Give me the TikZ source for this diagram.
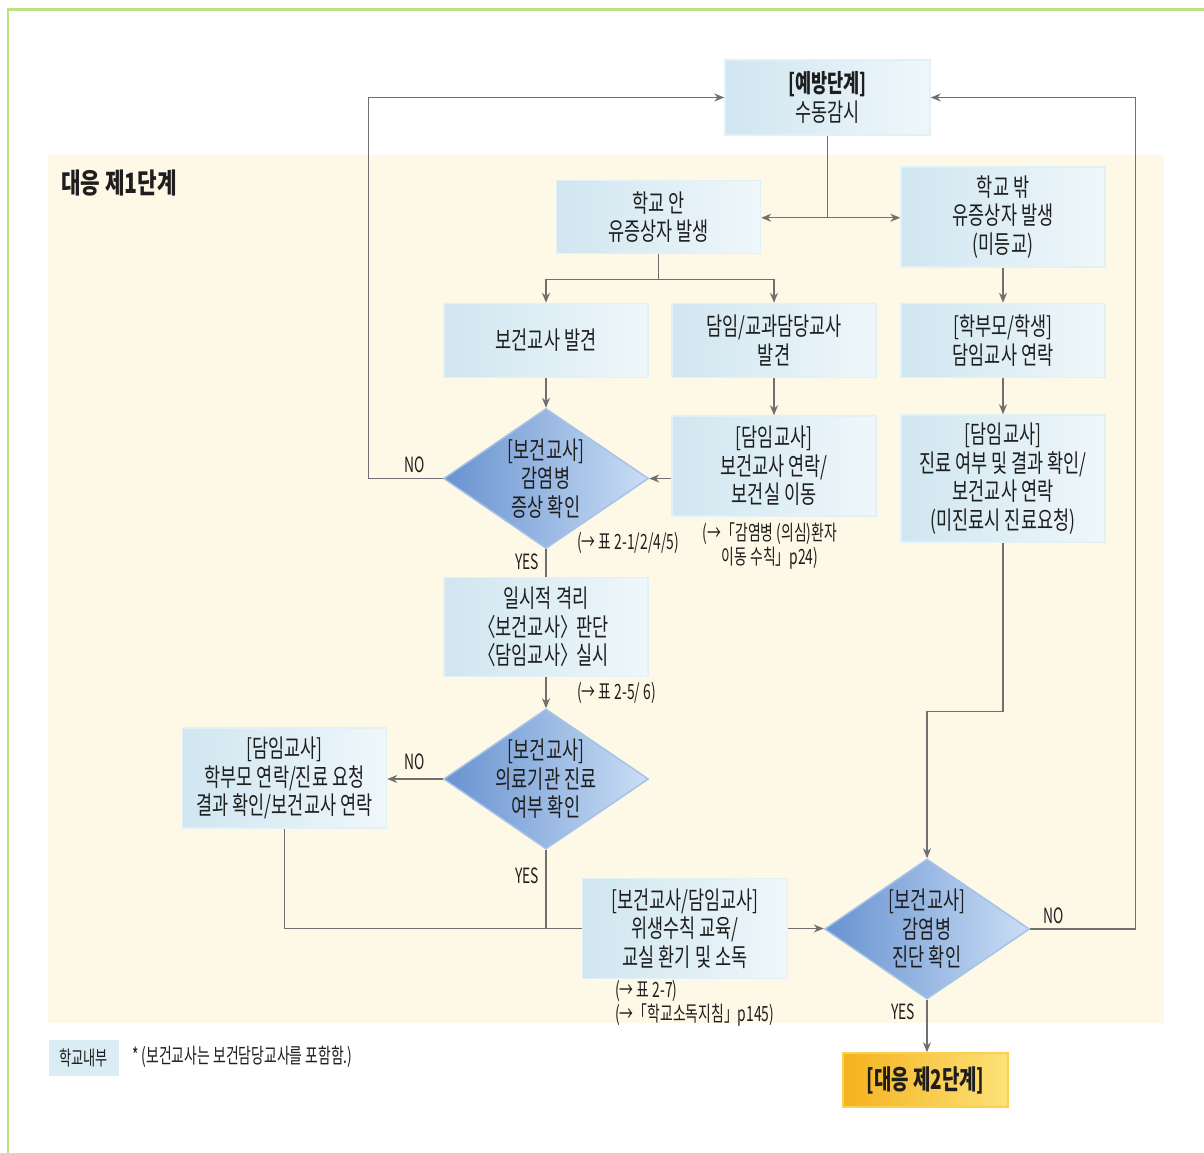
\documentclass[tikz,border=0pt]{standalone}
\usepackage{fontspec}
\usetikzlibrary{shapes.geometric,arrows.meta}
\newfontfamily\kr[FakeStretch=0.7]{Noto Sans CJK KR}
\newfontfamily\krn[FakeStretch=0.66]{Noto Sans CJK KR}
\newfontfamily\krt[FakeStretch=0.7]{Noto Sans CJK KR}
\newfontfamily\krh[FakeStretch=0.76]{Noto Sans CJK KR}
\newcommand\lab{\makebox[0.5em][r]{〈}}
\newcommand\rab{\makebox[0.5em][l]{〉}}
\definecolor{boxL}{RGB}{208,230,240}
\definecolor{boxR}{RGB}{239,247,251}
\definecolor{boxB}{RGB}{226,240,247}
\definecolor{diaL}{RGB}{104,146,208}
\definecolor{diaR}{RGB}{202,222,245}
\definecolor{diaB}{RGB}{165,195,232}
\definecolor{cream}{RGB}{253,249,230}
\definecolor{lineC}{RGB}{112,112,112}
\definecolor{goldL}{RGB}{245,178,30}
\definecolor{goldR}{RGB}{252,226,120}
\definecolor{goldB}{RGB}{250,208,80}
\definecolor{frameG}{RGB}{190,226,128}
\definecolor{txt}{RGB}{30,30,30}
\definecolor{legC}{RGB}{218,236,244}
\tikzset{
  box/.style={rectangle, left color=boxL, right color=boxR, draw=boxB, line width=1.5pt,
    inner sep=0pt, align=center, text=txt, font={\kr\fontsize{25}{28.5}\selectfont}},
  dia/.style={diamond, left color=diaL, right color=diaR, draw=diaB, line width=1.5pt,
    minimum width=205pt, minimum height=140pt, inner sep=0pt},
  dtext/.style={align=center, text=txt, font={\kr\fontsize{25}{28.5}\selectfont}},
  gold/.style={rectangle, left color=goldL, right color=goldR, draw=goldB, line width=1.5pt,
    inner sep=0pt, text=txt, font={\krt\bfseries\fontsize{27}{30}\selectfont}},
  note/.style={text=txt, inner sep=0pt, font={\krn\fontsize{21}{24}\selectfont}},
  yn/.style={text=txt, inner sep=0pt, font={\krn\fontsize{21}{24}\selectfont}},
  conn/.style={draw=lineC, line width=1.1pt},
  arr/.style={conn, -{Stealth[length=10pt,width=8pt]}}
}
\begin{document}
\begin{tikzpicture}[x=1pt,y=-1pt]
\useasboundingbox (0,0) rectangle (1204,1152);
\fill[white] (0,0) rectangle (1204,1152);
\fill[cream] (48,155) rectangle (1164,1023);
\draw[frameG, line width=2.5pt] (8,1160) -- (8,9.5) -- (1215,9.5);

\node[anchor=west, text=txt, inner sep=0pt, font={\krh\bfseries\fontsize{28}{30}\selectfont}] (t1) at (61,183) {대응 제1단계};

% boxes
\node[box, minimum width=205pt, minimum height=75pt] (prev) at (827.5,97.5) {{\bfseries [예방단계]}\\수동감시};
\node[box, minimum width=204pt, minimum height=73pt] (in) at (658.5,217) {학교 안\\유증상자 발생};
\node[box, minimum width=204pt, minimum height=100pt] (out) at (1003,217) {학교 밖\\유증상자 발생\\(미등교)};
\node[box, minimum width=204pt, minimum height=74pt] (b1) at (546,340.5) {보건교사 발견};
\node[box, minimum width=204pt, minimum height=74pt] (b2) at (774,340.5) {담임/교과담당교사\\발견};
\node[box, minimum width=204pt, minimum height=74pt] (b3) at (1003,340.5) {[학부모/학생]\\담임교사 연락};
\node[box, minimum width=204pt, minimum height=100pt] (b4) at (774,466) {[담임교사]\\보건교사 연락/\\보건실 이동};
\node[box, minimum width=204pt, minimum height=127pt] (b5) at (1003,478.5) {[담임교사]\\진료 여부 및 결과 확인/\\보건교사 연락\\(미진료시 진료요청)};
\node[box, minimum width=204pt, minimum height=99pt] (iso) at (546,627) {일시적 격리\\\lab 보건교사\rab\ 판단\\\lab 담임교사\rab\ 실시};
\node[box, minimum width=204pt, minimum height=100pt] (par) at (284.5,778) {[담임교사]\\학부모 연락/진료 요청\\결과 확인/보건교사 연락};
\node[box, minimum width=205pt, minimum height=100pt] (hyg) at (685,928.5) {[보건교사/담임교사]\\위생수칙 교육/\\교실 환기 및 소독};

% diamonds
\node[dia] (d1) at (546,478.5) {};
\node[dtext] (d1t) at (d1) {[보건교사]\\감염병\\증상 확인};
\node[dia] (d2) at (546,779) {};
\node[dtext] (d2t) at (d2) {[보건교사]\\의료기관 진료\\여부 확인};
\node[dia] (d3) at (927,929) {};
\node[dtext] (d3t) at (d3) {[보건교사]\\감염병\\진단 확인};

\node[gold, minimum width=165pt, minimum height=54pt] (s2) at (925.5,1080) {[대응 제2단계]};

% notes
\node[note, anchor=west] (n1) at (577,543) {(→ 표 2-1/2/4/5)};
\node[note, align=center] (n2) at (770,546) {(→「감염병 (의심)환자\\이동 수칙」p24)};
\node[note, anchor=west] (n3) at (577,693) {(→ 표 2-5/ 6)};
\node[note, anchor=west, align=left] (n4) at (615,1003) {(→ 표 2-7)\\(→「학교소독지침」p145)};

% legend
\node[fill=legC, minimum width=70pt, minimum height=36pt, inner sep=0pt, text=txt, font={\krn\fontsize{20}{22}\selectfont}] (leg) at (83.5,1057.5) {학교내부};
\node[note, anchor=west] (legt) at (132,1057) {* (보건교사는 보건담당교사를 포함함.)};

% labels
\node[yn] (no1) at (415,465) {NO};
\node[yn] (yes1) at (527,562) {YES};
\node[yn] (no2) at (415,762) {NO};
\node[yn] (yes2) at (527,876) {YES};
\node[yn] (yes3) at (903,1012) {YES};
\node[yn] (no3) at (1054,916) {NO};

% connectors
\draw[conn] (prev.south) -- ++(0,82) coordinate (sp1);
\draw[arr] (sp1) -- (sp1 -| in.east);
\draw[arr] (sp1) -- (sp1 -| out.west);
\draw[conn] (in.south) -- ++(0,25) coordinate (sp2);
\draw[arr] (sp2) -| (b1.north);
\draw[arr] (sp2) -| (b2.north);
\draw[arr] (b1.south) -- (d1.north);
\draw[arr] (b2.south) -- (b4.north);
\draw[arr] (b4.west |- d1.east) -- (d1.east);
\draw[arr] (d1.west) -- ++(-74,0) |- (prev.west);
\draw[conn] (d1.south) -- (iso.north);
\draw[arr] (iso.south) -- (d2.north);
\draw[arr] (d2.west) -- (d2.west -| par.east);
\draw[conn] (par.south) |- (hyg.west);
\draw[conn] (d2.south) -- (d2.south |- hyg.west);
\draw[arr] (hyg.east) -- (hyg.east -| d3.west);
\draw[arr] (out.south) -- (b3.north);
\draw[arr] (b3.south) -- (b5.north);
\draw[arr] (b5.south) -- ++(0,169) -| (d3.north);
\draw[arr] (d3.east) -- ++(105,0) |- (prev.east);
\draw[arr] (d3.south) -- (d3.south |- s2.north);
\end{tikzpicture}
\end{document}
